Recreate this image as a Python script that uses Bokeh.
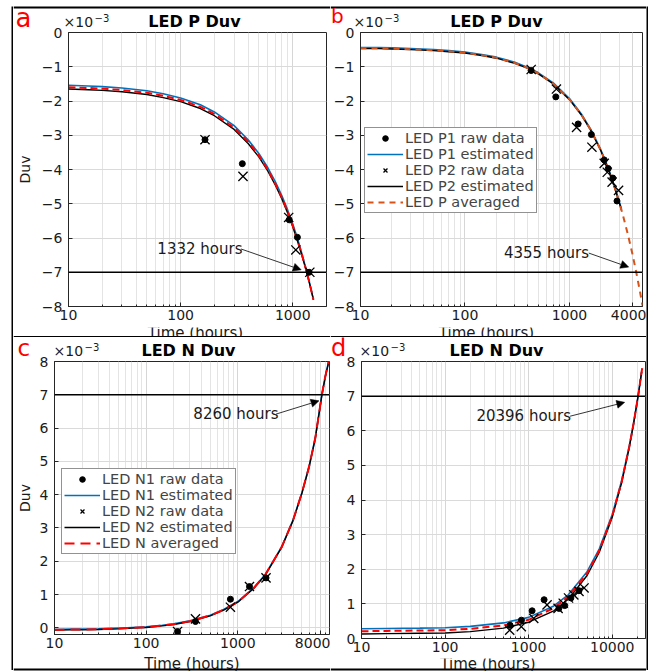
from bokeh.plotting import figure
from bokeh.layouts import row, column
from bokeh.models import (FixedTicker, NumeralTickFormatter, Span, Label, Arrow,
                          NormalHead, Legend, LegendItem, Range1d, Spacer)
from bokeh.embed import file_html
from bokeh.resources import INLINE

FONT = "DejaVu Sans"
BLUE = "#0072BD"
RED = "#FF0000"
ORANGE = "#D95319"
INK = "#262626"
TXT = "#1a1a1a"

# ---------------- Panel a : LED P Duv (1332 hours) ----------------
a_t = [10, 15, 20, 30, 50, 70, 100, 150, 200, 300, 400, 500, 600, 700, 800, 900,
       1000, 1100, 1200, 1300, 1400, 1530]
a_p1_est = [-1.54, -1.56, -1.58, -1.62, -1.70, -1.79, -1.91, -2.11, -2.32, -2.72, -3.13,
            -3.54, -3.95, -4.36, -4.77, -5.18, -5.59, -6.01, -6.43, -6.85, -7.26, -7.80]
a_p2_est = [-1.65, -1.67, -1.69, -1.73, -1.81, -1.90, -2.02, -2.22, -2.43, -2.83, -3.24,
            -3.64, -4.05, -4.46, -4.86, -5.27, -5.67, -6.08, -6.48, -6.88, -7.28, -7.80]
a_avg = [-1.60, -1.62, -1.64, -1.68, -1.76, -1.85, -1.97, -2.17, -2.38, -2.78, -3.19,
         -3.60, -4.01, -4.42, -4.82, -5.23, -5.64, -6.05, -6.46, -6.86, -7.27, -7.80]
a_p1_raw_t = [165, 355, 930, 1100, 1400]
a_p1_raw = [-3.13, -3.83, -5.47, -5.98, -7.00]
a_p2_raw_t = [165, 360, 920, 1065, 1420]
a_p2_raw = [-3.13, -4.20, -5.40, -6.35, -7.00]
a_limit = -7
a_note = "1332 hours"

# ---------------- Panel b : LED P Duv (4355 hours) ----------------
b_t = [10, 15, 20, 30, 50, 70, 100, 150, 200, 300, 400, 500, 700, 1000, 1300, 1600,
       2000, 2400, 2800, 3150]
b_p1_est = [-0.44, -0.44, -0.45, -0.47, -0.50, -0.53, -0.57, -0.65, -0.72, -0.87, -1.02,
            -1.17, -1.47, -1.93, -2.38, -2.83, -3.43, -4.03, -4.64, -5.16]
b_p2_est = [-0.47, -0.47, -0.48, -0.50, -0.53, -0.56, -0.60, -0.68, -0.75, -0.90, -1.05,
            -1.20, -1.50, -1.96, -2.41, -2.86, -3.46, -4.06, -4.67, -5.19]
b_avg_t = [10, 15, 20, 30, 50, 70, 100, 150, 200, 300, 400, 500, 700, 1000, 1300, 1600,
           2000, 2400, 2800, 3200, 3600, 4000, 4355, 4700, 5000]
b_avg = [-0.46, -0.46, -0.47, -0.49, -0.52, -0.55, -0.59, -0.67, -0.74, -0.89, -1.04,
         -1.19, -1.49, -1.95, -2.40, -2.85, -3.45, -4.05, -4.66, -5.26, -5.86, -6.46,
         -7.00, -7.52, -7.97]
b_p1_raw_t = [430, 740, 1210, 1620, 2150, 2350, 2600, 2850]
b_p1_raw = [-1.11, -1.88, -2.67, -2.98, -3.72, -3.97, -4.25, -4.92]
b_p2_raw_t = [430, 750, 1170, 1640, 2150, 2300, 2560, 2950]
b_p2_raw = [-1.08, -1.65, -2.77, -3.35, -3.82, -4.08, -4.37, -4.61]
b_limit = -7
b_note = "4355 hours"

# ---------------- Panel c : LED N Duv (8260 hours) ----------------
c_t = [10, 15, 20, 30, 50, 70, 100, 150, 200, 300, 500, 700, 1000, 1500, 2000, 3000,
       4000, 5000, 6000, 7000, 8000, 8260, 9000, 10000]
c_n1_est = [-0.05, -0.04, -0.04, -0.03, -0.01, 0.01, 0.03, 0.08, 0.12, 0.21, 0.38, 0.55,
            0.79, 1.21, 1.61, 2.43, 3.24, 4.06, 4.86, 5.71, 6.76, 7.01, 7.56, 8.11]
c_n2_est = [-0.07, -0.06, -0.06, -0.05, -0.03, -0.01, 0.01, 0.06, 0.10, 0.19, 0.36, 0.53,
            0.77, 1.19, 1.59, 2.41, 3.22, 4.04, 4.84, 5.69, 6.74, 6.99, 7.54, 8.09]
c_avg = [-0.06, -0.05, -0.05, -0.04, -0.02, 0.00, 0.02, 0.07, 0.11, 0.20, 0.37, 0.54,
         0.78, 1.20, 1.60, 2.42, 3.23, 4.05, 4.85, 5.70, 6.75, 7.00, 7.55, 8.10]
c_n1_raw_t = [220, 345, 830, 1340, 2030]
c_n1_raw = [-0.11, 0.19, 0.86, 1.24, 1.50]
c_n2_raw_t = [220, 345, 830, 1340, 2030]
c_n2_raw = [-0.11, 0.27, 0.62, 1.24, 1.50]
c_limit = 7
c_note = "8260 hours"

# ---------------- Panel d : LED N Duv (20396 hours) ----------------
d_t = [10, 20, 50, 100, 200, 500, 1000, 2000, 3000, 5000, 7000, 10000, 13000, 16000,
       18000, 20396, 22500]
d_n1_est = [0.28, 0.29, 0.30, 0.31, 0.35, 0.45, 0.61, 0.94, 1.27, 1.93, 2.59, 3.58,
            4.57, 5.56, 6.22, 7.01, 7.71]
d_n2_est = [0.13, 0.14, 0.15, 0.16, 0.20, 0.30, 0.47, 0.80, 1.14, 1.82, 2.49, 3.50,
            4.51, 5.52, 6.20, 7.00, 7.71]
d_avg_t = [10, 20, 50, 100, 200, 500, 1000, 2000, 3000, 5000, 7000, 10000, 13000, 16000,
           18000, 20396, 23000]
d_avg = [0.21, 0.22, 0.23, 0.24, 0.28, 0.38, 0.54, 0.88, 1.21, 1.88, 2.54, 3.54, 4.54,
         5.54, 6.20, 7.00, 7.87]
d_n1_raw_t = [600, 820, 1100, 1530, 2300, 2700, 3200, 4000]
d_n1_raw = [0.38, 0.53, 0.80, 1.12, 0.87, 0.95, 1.17, 1.38]
d_n2_raw_t = [593, 817, 1150, 1660, 2250, 2590, 3000, 3470, 4000, 4600]
d_n2_raw = [0.24, 0.34, 0.58, 0.97, 0.87, 1.02, 1.17, 1.26, 1.36, 1.46]
d_limit = 7
d_note = "20396 hours"

P_LEGEND = ["LED P1 raw data", "LED P1 estimated", "LED P2 raw data",
            "LED P2 estimated", "LED P averaged"]
N_LEGEND = ["LED N1 raw data", "LED N1 estimated", "LED N2 raw data",
            "LED N2 estimated", "LED N averaged"]


# ---------------- helpers ----------------
def minor_ticks(lo, hi):
    out = []
    dec = 1
    while dec < hi:
        for m in range(2, 10):
            v = m * dec
            if lo < v < hi:
                out.append(v)
        dec *= 10
    return out


def tile(w, h, bg="white"):
    """A plain figure whose frame is the whole canvas, y measured downward."""
    t = figure(width=w, height=h, x_range=Range1d(0, w), y_range=Range1d(h, 0),
               min_border=0, min_border_left=0, min_border_right=0,
               min_border_top=0, min_border_bottom=0,
               x_axis_location=None, y_axis_location=None,
               toolbar_location=None, title=None, output_backend="svg")
    t.outline_line_color = None
    t.grid.visible = False
    t.background_fill_color = bg
    t.border_fill_color = bg
    return t


def txt(t, x, y, text, size, color=TXT, align="left", bold=False):
    t.add_layout(Label(x=x, y=y, text=text, text_font=FONT, text_font_size=size,
                       text_color=color, text_align=align, text_baseline="middle",
                       text_font_style="bold" if bold else "normal"))


def hline(t, y):
    t.add_layout(Span(location=y, dimension="width", line_color="black", line_width=2))


def header(w, h, letter, lxy, lsize, title, tx, ty, ex, ey, top_line=None):
    t = tile(w, h)
    if top_line is not None:
        hline(t, top_line)
    txt(t, lxy[0], lxy[1], letter, lsize, color="#FF0000")
    txt(t, ex, ey, "\u00d710", "14px")
    txt(t, ex + 31, ey - 4, "\u22123", "10px")
    txt(t, tx, ty, title, "16px", color="black", align="center", bold=True)
    return t


def footer(w, h, cx, cy, line_y):
    t = tile(w, h)
    txt(t, cx, cy, "Time (hours)", "15px", align="center")
    hline(t, line_y)
    return t


def main_panel(L):
    p = figure(width=L["W"], height=L["H"], x_axis_type="log",
               x_range=Range1d(L["xr"][0], L["xr"][1]),
               y_range=Range1d(L["yr"][0], L["yr"][1]),
               output_backend="svg", toolbar_location=None, title=None,
               min_border_left=L["bl"], min_border_right=L["br"],
               min_border_top=L["bt"], min_border_bottom=L["bb"])
    p.background_fill_color = "white"
    p.border_fill_color = "white"
    p.outline_line_color = INK
    p.outline_line_width = 1
    xt = FixedTicker(ticks=L["xticks"], minor_ticks=minor_ticks(L["xr"][0], L["xr"][1]))
    yt = FixedTicker(ticks=L["yticks"])
    p.xaxis.ticker = xt
    p.xgrid.ticker = xt
    p.yaxis.ticker = yt
    p.ygrid.ticker = yt
    p.xaxis.formatter = NumeralTickFormatter(format="0")
    for ax in (p.xaxis[0], p.yaxis[0]):
        ax.major_tick_in = 4
        ax.major_tick_out = 0
        ax.minor_tick_in = 2
        ax.minor_tick_out = 0
        ax.axis_line_color = INK
        ax.major_tick_line_color = INK
        ax.minor_tick_line_color = INK
        ax.major_label_text_font = FONT
        ax.major_label_text_font_size = "14px"
        ax.major_label_text_color = TXT
    p.xaxis.major_label_standoff = L["xso"]
    p.yaxis.major_label_standoff = 6
    if L.get("ylab"):
        p.yaxis.axis_label = "Duv"
        p.yaxis.axis_label_text_font = FONT
        p.yaxis.axis_label_text_font_size = "14px"
        p.yaxis.axis_label_text_font_style = "normal"
        p.yaxis.axis_label_text_color = TXT
        p.yaxis.axis_label_standoff = L["ylso"]
    p.xgrid.grid_line_color = "#d6d6d6"
    p.xgrid.minor_grid_line_color = "#e4e4e4"
    p.ygrid.grid_line_color = "#dadada"
    return p


def curves(p, t, e1, e2, ta, avg, avg_color, dash, r1t, r1, r2t, r2):
    l1 = p.line(t, e1, line_color=BLUE, line_width=1.6)
    l2 = p.line(t, e2, line_color="black", line_width=1.4)
    la = p.line(ta, avg, line_color=avg_color, line_width=2, line_dash=dash)
    s1 = p.scatter(r1t, r1, marker="circle", size=6, color="black")
    s2 = p.scatter(r2t, r2, marker="x", size=13, line_color="black", line_width=1.3)
    return [s1, l1, s2, l2, la]


def add_legend(p, rends, names, loc):
    items = [LegendItem(label=n, renderers=[r]) for n, r in zip(names, rends)]
    p.add_layout(Legend(items=items, location=loc, label_text_font=FONT,
                        label_text_font_size="14.5px", label_height=14, glyph_height=14,
                        glyph_width=36, spacing=0, padding=2, margin=0, label_standoff=2,
                        border_line_color=INK, border_line_width=1,
                        background_fill_color="white", background_fill_alpha=1))


def limit_line(p, v):
    p.add_layout(Span(location=v, dimension="width", line_color="black", line_width=1.5))


def annot(p, text, tx, ty, x0, y0, x1, y1):
    p.add_layout(Label(x=tx, y=ty, text=text, text_font=FONT, text_font_size="15px",
                       text_baseline="middle", text_color=TXT))
    p.add_layout(Arrow(end=NormalHead(size=8, line_color="black", fill_color="black",
                                      line_width=0.5),
                       x_start=x0, y_start=y0, x_end=x1, y_end=y1,
                       line_color="black", line_width=0.8))


# ---------------- geometry of the main plotting tiles ----------------
LA = dict(W=317, H=299, bl=49, br=4, bt=5, bb=20, xso=3, ylab=True, ylso=6,
          xr=(10, 2000), yr=(-8, 0), xticks=[10, 100, 1000], yticks=list(range(-8, 1)))
LB = dict(W=316, H=299, bl=22, br=4, bt=5, bb=20, xso=3,
          xr=(10, 5000), yr=(-8, 0), xticks=[10, 100, 1000, 4000],
          yticks=list(range(-8, 1)))
LC = dict(W=317, H=299, bl=39, br=1, bt=5, bb=21, xso=3, ylab=True, ylso=4,
          xr=(10, 10000), yr=(-0.2, 8), xticks=[10, 100, 1000, 8000],
          yticks=list(range(0, 9)))
LD = dict(W=316, H=302, bl=31, br=1, bt=5, bb=20, xso=3,
          xr=(10, 25000), yr=(0, 8), xticks=[10, 100, 1000, 10000],
          yticks=list(range(0, 9)))

# ---- a ----
pa = main_panel(LA)
limit_line(pa, a_limit)
curves(pa, a_t, a_p1_est, a_p2_est, a_t, a_avg, RED, "7 4",
       a_p1_raw_t, a_p1_raw, a_p2_raw_t, a_p2_raw)
annot(pa, a_note, 62, -6.32, 345, -6.32, 1190, -6.93)
ha = header(317, 27, "a", (2, 17.5), "26px", "LED P Duv", 181, 21, 50, 21.5, top_line=7)
fa = footer(317, 11, 182, 5, 9.5)

# ---- b ----
pb = main_panel(LB)
limit_line(pb, b_limit)
rb = curves(pb, b_t, b_p1_est, b_p2_est, b_avg_t, b_avg, ORANGE, "6 5",
            b_p1_raw_t, b_p1_raw, b_p2_raw_t, b_p2_raw)
annot(pb, b_note, 236, -6.44, 1530, -6.44, 3690, -6.85)
add_legend(pb, rb, P_LEGEND, (4, 93))
hb = header(316, 27, "b", (0.5, 15), "20px", "LED P Duv", 166, 21, 23, 21.5, top_line=7)
fb = footer(316, 11, 156, 5, 9.5)

# ---- c ----
pc = main_panel(LC)
limit_line(pc, c_limit)
rc = curves(pc, c_t, c_n1_est, c_n2_est, c_t, c_avg, RED, "10 6",
            c_n1_raw_t, c_n1_raw, c_n2_raw_t, c_n2_raw)
annot(pc, c_note, 327, 6.42, 2610, 6.42, 7680, 6.82)
add_legend(pc, rc, N_LEGEND, (7, 80))
hc = header(317, 19, "c", (4, 10.3), "23px", "LED N Duv", 175, 12.8, 40, 13.6)
fc = footer(317, 16, 178.5, 8.5, 14)

# ---- d ----
pd_ = main_panel(LD)
limit_line(pd_, d_limit)
curves(pd_, d_t, d_n1_est, d_n2_est, d_avg_t, d_avg, RED, "7 4",
       d_n1_raw_t, d_n1_raw, d_n2_raw_t, d_n2_raw)
annot(pd_, d_note, 237, 6.42, 3130, 6.42, 14100, 6.82)
hd = header(316, 19, "d", (0.5, 10.5), "24px", "LED N Duv", 166, 12.8, 29, 13.2)
fd = footer(316, 13, 157.5, 5.8, 11)

# ---- outer vertical border bars ----
vl = tile(2, 664, bg="black")
vr = tile(2, 664, bg="black")


def stack(h, m, f):
    # each tile wrapped on its own so that frames are not aligned to each other
    return column(row(h), row(m), row(f))


top_row = row(stack(ha, pa, fa), stack(hb, pb, fb))
bottom_row = row(stack(hc, pc, fc), stack(hd, pd_, fd))
page = row(Spacer(width=11, height=10),
           column(Spacer(width=2, height=6), vl),
           column(top_row, bottom_row),
           column(Spacer(width=2, height=6), vr))

open("out.html", "w").write(file_html(page, INLINE))
